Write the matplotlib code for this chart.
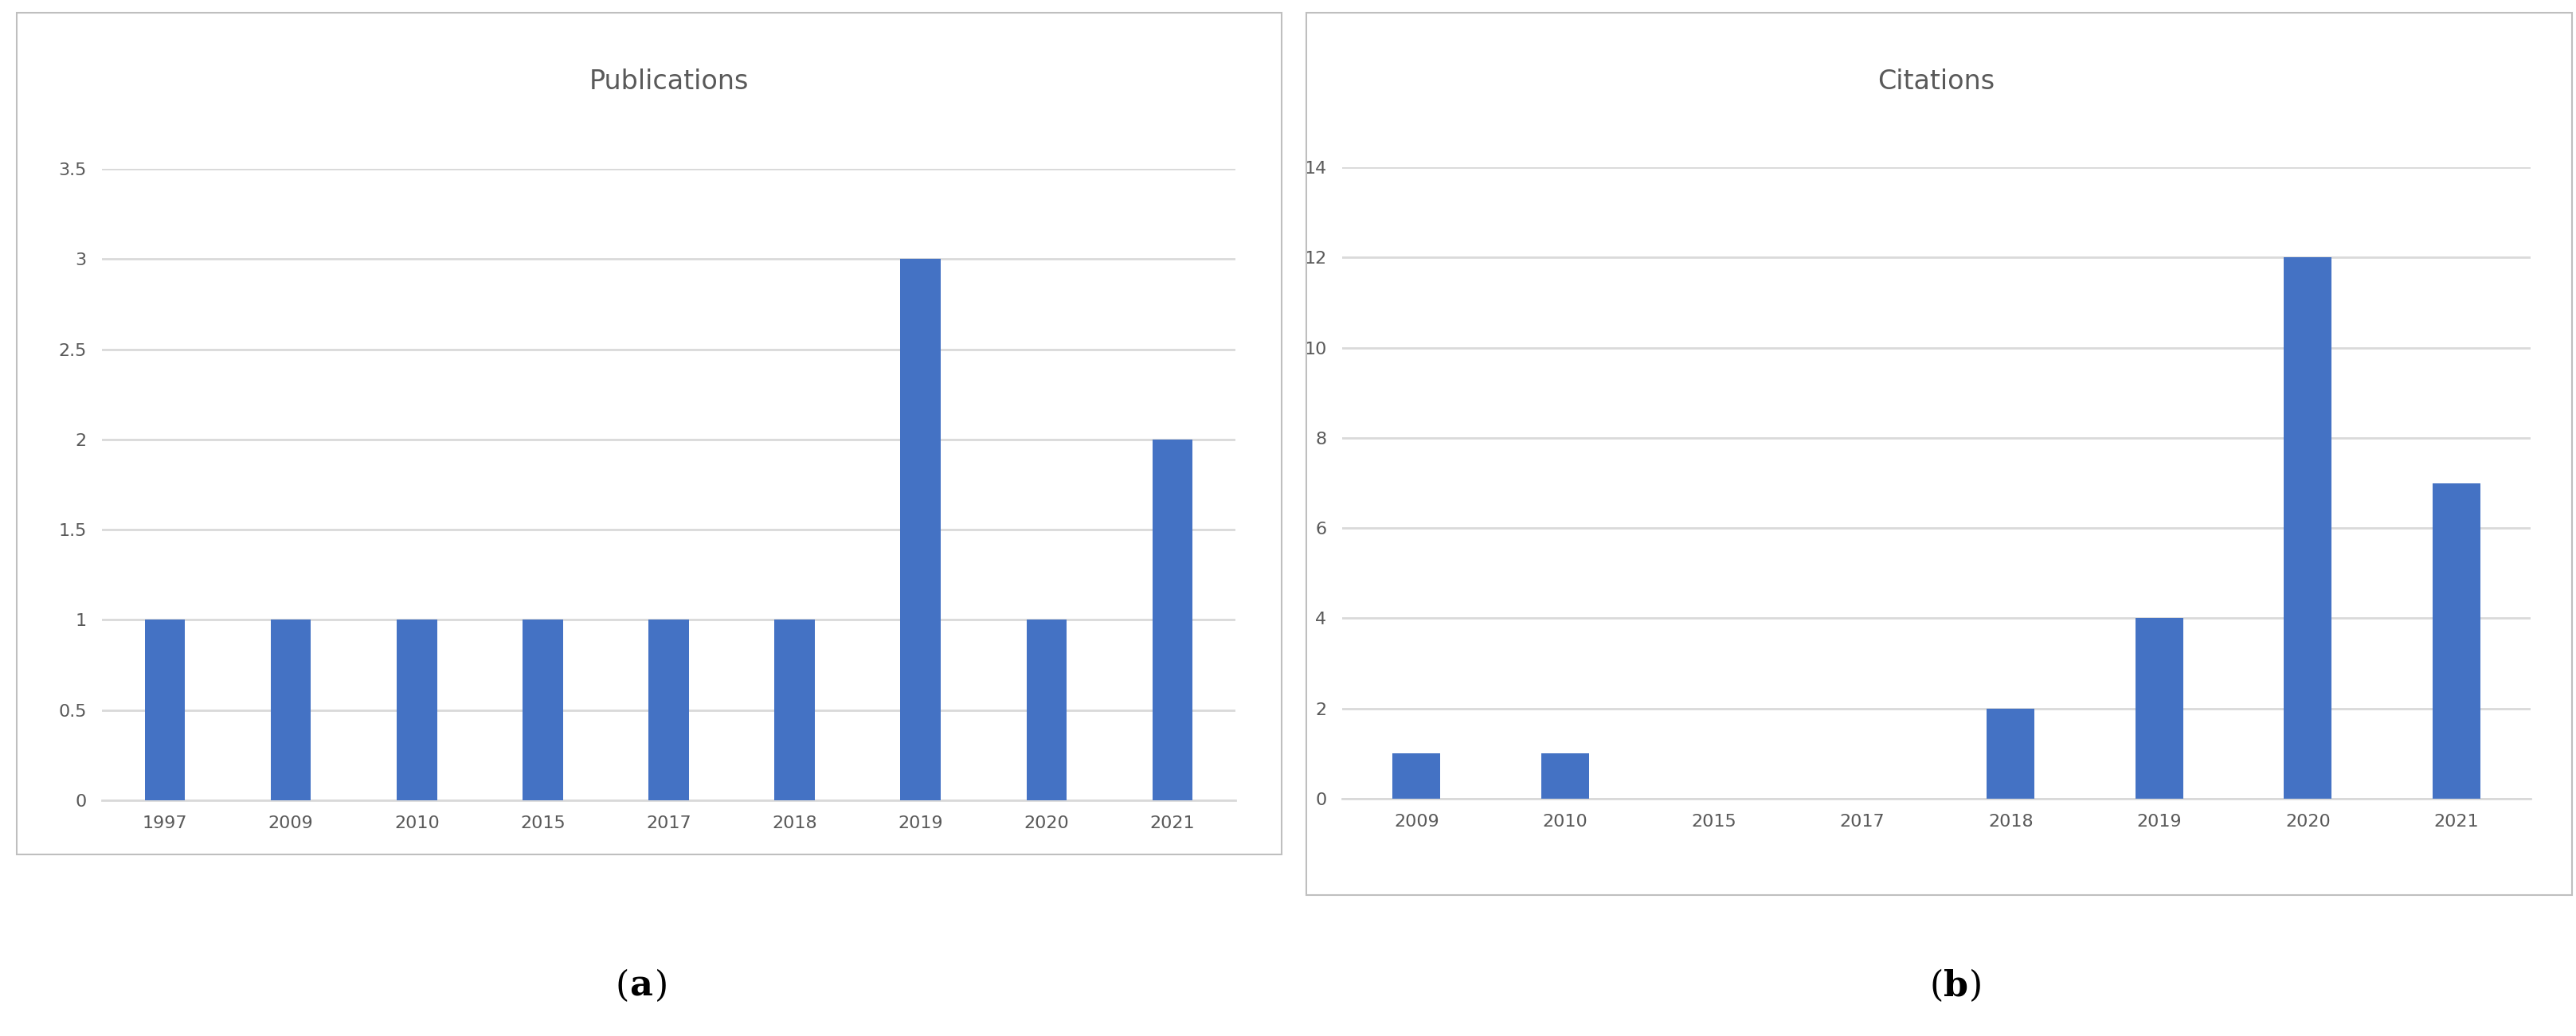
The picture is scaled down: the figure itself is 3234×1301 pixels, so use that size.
import matplotlib.pyplot as plt
from matplotlib.patches import Rectangle

pub_years = ['1997', '2009', '2010', '2015', '2017', '2018', '2019', '2020', '2021']
pub_counts = [1, 1, 1, 1, 1, 1, 3, 1, 2]
cit_years = ['2009', '2010', '2015', '2017', '2018', '2019', '2020', '2021']
cit_counts = [1, 1, 0, 0, 2, 4, 12, 7]

W, H = 3234, 1301
fig = plt.figure(figsize=(W / 100, H / 100), dpi=100)
bar_color = '#4472C4'
grey = '#595959'

def box(x0, y0, x1, y1):
    # pixel coords from top-left
    fig.add_artist(Rectangle((x0 / W, 1 - y1 / H), (x1 - x0) / W, (y1 - y0) / H,
                             transform=fig.transFigure, fill=False,
                             edgecolor='#bfbfbf', linewidth=1.5))

def panel(rect, cats, vals, ymax, step, title, title_y):
    x0, y0, x1, y1 = rect
    ax = fig.add_axes([x0 / W, 1 - y1 / H, (x1 - x0) / W, (y1 - y0) / H])
    ax.bar(range(len(cats)), vals, width=0.32, color=bar_color, zorder=3)
    ax.set_xlim(-0.5, len(cats) - 0.5)
    ax.set_ylim(0, ymax)
    ticks = [i * step for i in range(int(round(ymax / step)) + 1)]
    ax.set_yticks(ticks)
    ax.set_yticklabels([('%g' % t) for t in ticks])
    ax.set_xticks(range(len(cats)))
    ax.set_xticklabels(cats)
    ax.grid(axis='y', color='#d9d9d9', linewidth=2, zorder=0)
    for s in ['top', 'right', 'left']:
        ax.spines[s].set_visible(False)
    ax.spines['bottom'].set_color('#d9d9d9')
    ax.spines['bottom'].set_linewidth(2)
    ax.tick_params(length=0, labelsize=16, colors=grey, pad=14)
    fig.text((x0 + x1) / 2 / W, 1 - title_y / H, title, ha='center', va='center',
             fontsize=24, color=grey)
    return ax

box(21, 16, 1609, 1073)
box(1640, 16, 3229, 1124)
panel((128, 212, 1551, 1005), pub_years, pub_counts, 3.5, 0.5, 'Publications', 103)
panel((1685, 210, 3177, 1003), cit_years, cit_counts, 14, 2, 'Citations', 103)

for x, letter in [(790, 'a'), (2440, 'b')]:
    fig.text(x / W, 1 - 1238 / H, '(', ha='right', va='center', fontsize=32, family='DejaVu Serif')
    fig.text(x / W, 1 - 1238 / H, letter, ha='left', va='center', fontsize=32,
             family='DejaVu Serif', weight='bold')
    fig.text((x + 32) / W, 1 - 1238 / H, ')', ha='left', va='center', fontsize=32, family='DejaVu Serif')

fig.savefig('out.png', dpi=100)
